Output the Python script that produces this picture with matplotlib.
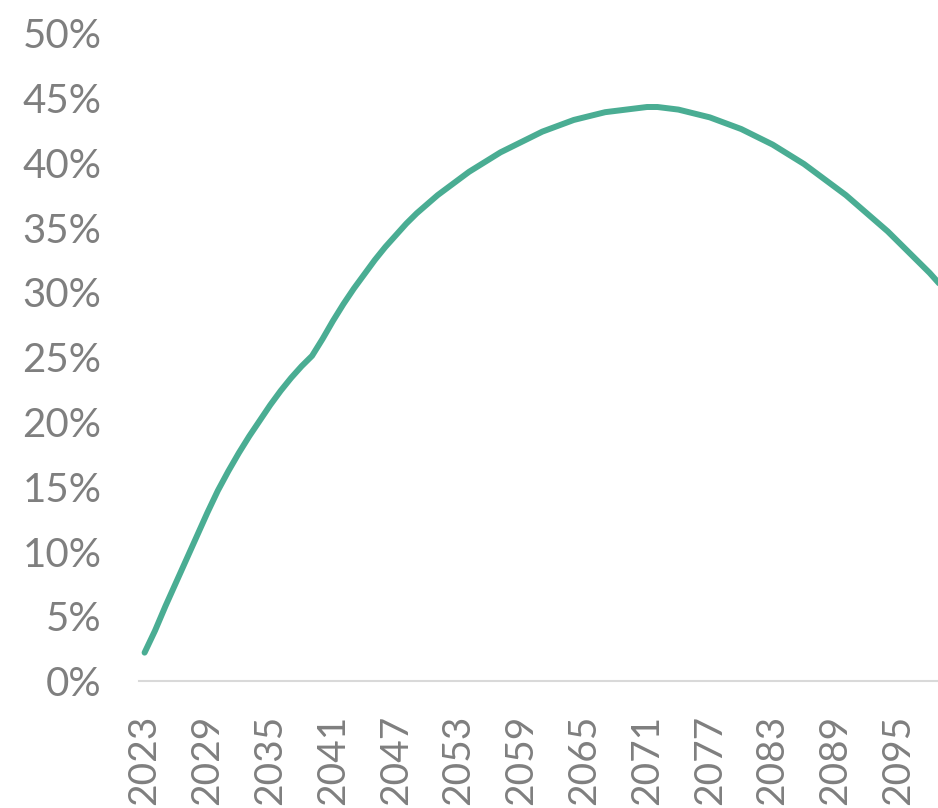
import matplotlib.pyplot as plt
import numpy as np
from matplotlib.ticker import PercentFormatter

# share by year, in percent
years = np.arange(2023, 2101)
share = [
    2.2, 3.9, 5.8, 7.6, 9.4, 11.2, 13.0, 14.7, 16.2, 17.6,
    18.9, 20.1, 21.3, 22.4, 23.4, 24.3, 25.1, 26.4, 27.8, 29.1,
    30.3, 31.4, 32.5, 33.5, 34.4, 35.3, 36.1, 36.8, 37.5, 38.1,
    38.7, 39.3, 39.8, 40.3, 40.8, 41.2, 41.6, 42.0, 42.4, 42.7,
    43.0, 43.3, 43.5, 43.7, 43.9, 44.0, 44.1, 44.2, 44.3, 44.3,
    44.2, 44.1, 43.9, 43.7, 43.5, 43.2, 42.9, 42.6, 42.2, 41.8,
    41.4, 40.9, 40.4, 39.9, 39.3, 38.7, 38.1, 37.5, 36.8, 36.1,
    35.4, 34.7, 33.9, 33.1, 32.3, 31.5, 30.6, 29.7,
]
tick_years = np.arange(2023, 2101, 6)

plt.rcParams['font.family'] = ['Lato', 'DejaVu Sans']
grey = '#7f7f7f'

fig = plt.figure(figsize=(9.38, 8.08), dpi=100)
ax = fig.add_axes([0.148, 0.157, 0.852, 0.802])
ax.plot(years, share, color='#4aad93', lw=4.3, solid_capstyle='round',
        solid_joinstyle='round')

ax.set_ylim(0, 50)
ax.set_xlim(2022.45, 2098.8)
ax.set_yticks(np.arange(0, 51, 5))
ax.yaxis.set_major_formatter(PercentFormatter(decimals=0))
ax.set_xticks(tick_years)
ax.set_xticklabels([str(y) for y in tick_years], rotation=90)

ax.tick_params(axis='both', length=0, colors=grey)
ax.tick_params(axis='y', pad=27, labelsize=29)
ax.tick_params(axis='x', pad=24, labelsize=28)

for side in ['top', 'right', 'left']:
    ax.spines[side].set_visible(False)
ax.spines['bottom'].set_color('#d9d9d9')
ax.spines['bottom'].set_linewidth(1.5)

plt.savefig('out.png', dpi=100)
